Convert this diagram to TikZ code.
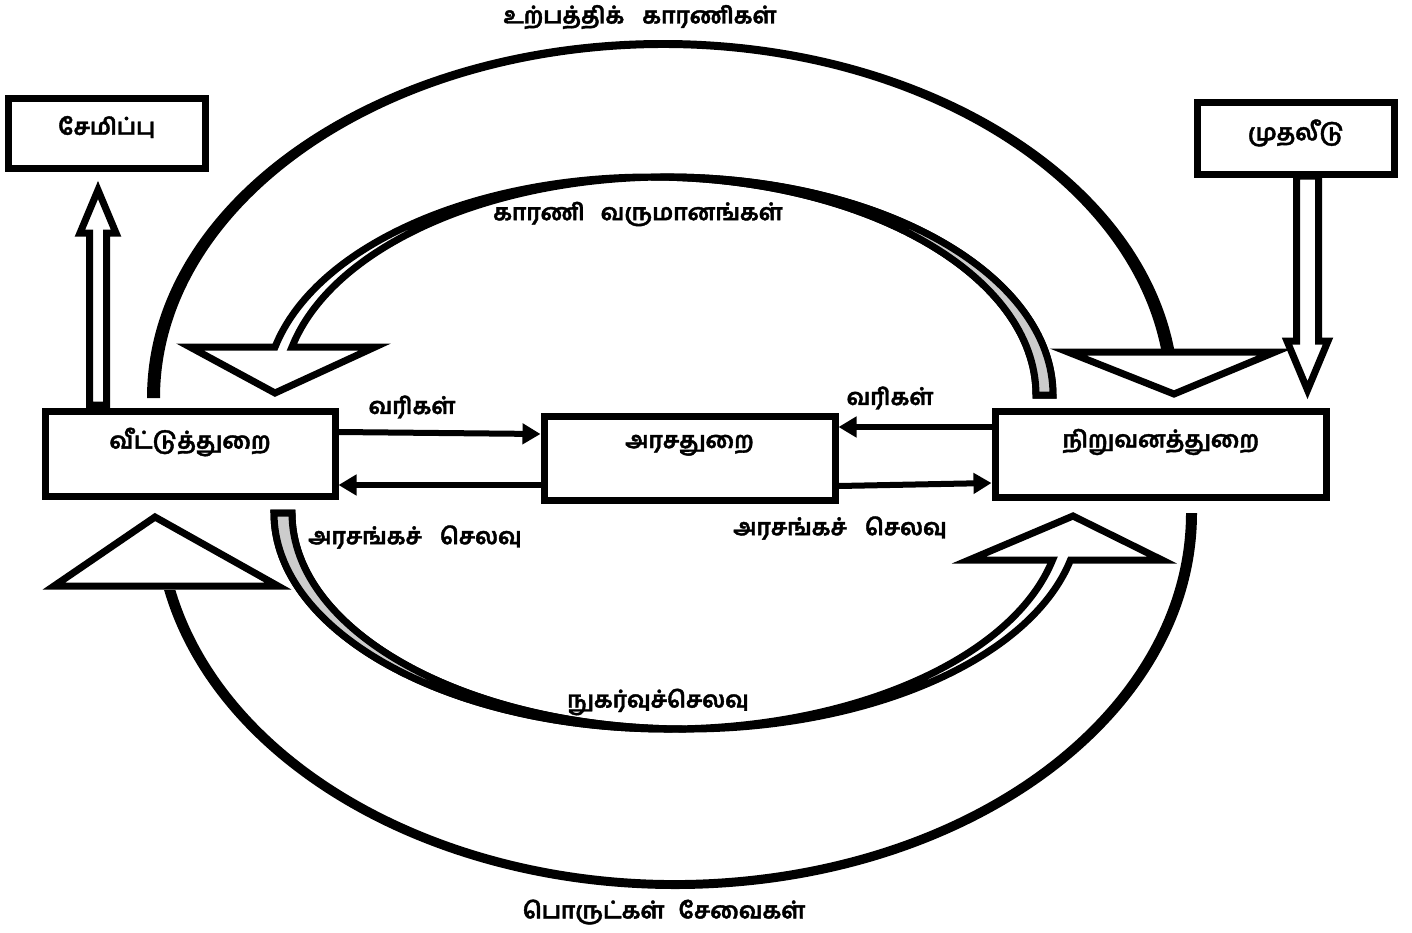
\documentclass[tikz,border=0pt]{standalone}
\usepackage{fontspec}
\setmainfont{Hind Madurai}[Script=Tamil, BoldFeatures={FakeBold=1.6}]
\usetikzlibrary{arrows.meta}
\tikzset{box/.style={rectangle, draw, line width=7pt, inner sep=0pt}}
\tikzset{hollow/.style={draw, fill=white, line width=7pt}}
\tikzset{ribbon/.style={draw, line width=7pt}}
\tikzset{flow/.style={line width=6pt, -{Triangle[length=18pt,width=20pt]}}}
\tikzset{txt/.style={font=\fontsize{23}{26}\selectfont\bfseries}}

\begin{document}
\begin{tikzpicture}[x=1pt, y=-1pt]
  \fill[white] (0,0) rectangle (1412,932);
  \useasboundingbox (0,0) rectangle (1412,932);

  \fill (147,398) arc[start angle=180, end angle=352.6, x radius=516, y radius=358] -- ([shift={(663,398)}]352.45:503 and 350) arc[start angle=352.45, end angle=180, x radius=503, y radius=350] -- cycle;
  \fill (1197,513) arc[start angle=0, end angle=168.18, x radius=522, y radius=376] -- ([shift={(675,513)}]167.89:511 and 367) arc[start angle=167.89, end angle=0, x radius=511, y radius=367] -- cycle;
  \draw[hollow] (1068,352) -- (1174,394) -- (1275,352) -- cycle;
  \draw[hollow] (54,586) -- (155,517) -- (278,586) -- cycle;

  \draw[ribbon, fill=white] (1036,395) arc[start angle=360, end angle=192.72, x radius=385.2, y radius=218] -- (190,347) -- (275,393) -- (375,347) -- (292,347) arc[start angle=192.72, end angle=360, x radius=385.2, y radius=218] -- cycle;
  \draw[ribbon, fill=gray!40] (1036,395) arc[start angle=360, end angle=270, x radius=385.2, y radius=218] -- (667.8,177) arc[start angle=270, end angle=360, x radius=385.2, y radius=218] -- cycle;
  \draw[ribbon, fill=white] (274,513) arc[start angle=180, end angle=12.57, x radius=394, y radius=216] -- (969,560) -- (1073,516) -- (1162,560) -- (1070.5,560) arc[start angle=12.57, end angle=180, x radius=394, y radius=216] -- cycle;
  \draw[ribbon, fill=gray!40] (274,513) arc[start angle=180, end angle=90, x radius=394, y radius=216] -- (686,729) arc[start angle=90, end angle=180, x radius=394, y radius=216] -- cycle;

  \node[box, minimum width=196.5pt, minimum height=70pt, label={[txt, yshift=6.5pt]center:சேமிப்பு}] (sav) at (106.75,133.5) {};
  \node[box, minimum width=197pt, minimum height=72pt, label={[txt, yshift=5.5pt]center:முதலீடு}] (inv) at (1296,138.5) {};
  \node[box, minimum width=290pt, minimum height=85pt, label={[txt, yshift=12pt]center:வீட்டுத்துறை}] (hh) at (190,454) {};
  \node[box, minimum width=291pt, minimum height=84.5pt, label={[txt, yshift=13pt]center:அரசதுறை}] (gov) at (689.5,458.25) {};
  \node[box, minimum width=331.5pt, minimum height=86pt, label={[txt, yshift=12.5pt]center:நிறுவனத்துறை}] (firm) at (1160.75,454.5) {};

  \coordinate (sv) at ([xshift=56.5pt, yshift=3pt]hh.north west);
  \coordinate (iv) at ([xshift=11.5pt, yshift=2pt]inv.south);
  \draw[hollow] (sv) ++(-8.5,0) -- ++(0,-172) -- ++(-9.5,0) -- ++(18,-43) -- ++(18,43) -- ++(-9.5,0) -- ++(0,172) -- cycle;
  \draw[hollow] (iv) ++(-11,0) -- ++(0,165) -- ++(-9.5,0) -- ++(20.5,49) -- ++(20.5,-49) -- ++(-9.5,0) -- ++(0,-165) -- cycle;

  \draw[flow] ([yshift=22pt]hh.east) -- ([yshift=24.25pt]gov.west);
  \draw[flow] ([yshift=-26.75pt]gov.west) -- ([yshift=-31pt]hh.east);
  \draw[flow] ([yshift=27.5pt]firm.west) -- ([yshift=31.25pt]gov.east);
  \draw[flow] ([yshift=-27.75pt]gov.east) -- ([yshift=-28.5pt]firm.west);

  \node[txt] (fop) at (640,17) {உற்பத்திக்\hspace{18pt}காரணிகள்};
  \node[txt] (finc) at (638,214) {காரணி\hspace{16pt}வருமானங்கள்};
  \node[txt] (tax1) at (412,407) {வரிகள்};
  \node[txt] (tax2) at (890,398) {வரிகள்};
  \node[txt] (gsp1) at (415,537) {அரசங்கச்\hspace{18pt}செலவு};
  \node[txt] (gsp2) at (840,528) {அரசங்கச்\hspace{18pt}செலவு};
  \node[txt] (cons) at (658,702) {நுகர்வுச்செலவு};
  \node[txt] (gds) at (664,912) {பொருட்கள்\hspace{14pt}சேவைகள்};
\end{tikzpicture}
\end{document}
